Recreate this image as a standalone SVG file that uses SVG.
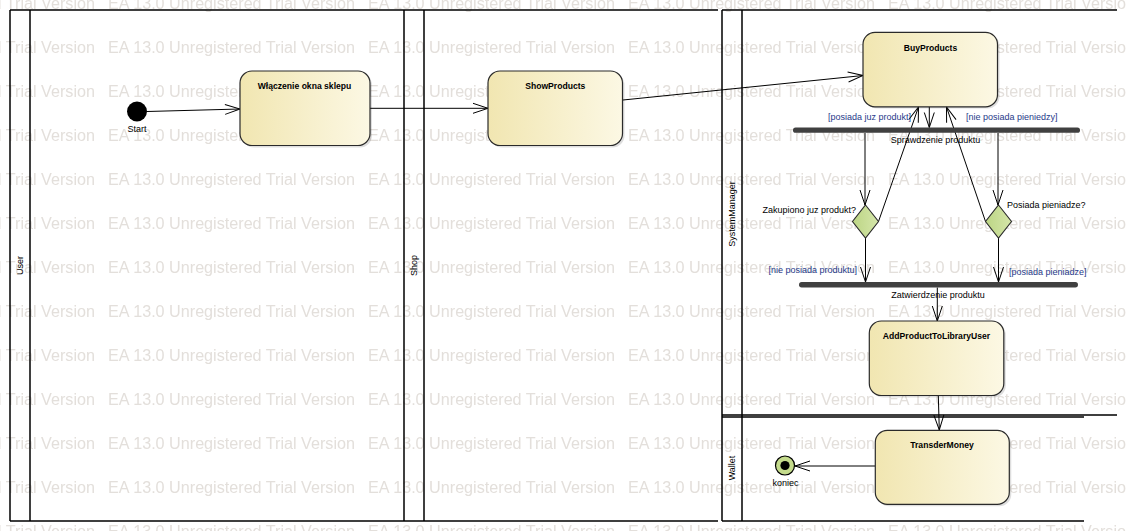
<svg xmlns="http://www.w3.org/2000/svg" width="1126" height="531" viewBox="0 0 1126 531">
<style>
.lane{stroke:#000;stroke-width:1.5;fill:none}
.lbl{font-family:"Liberation Sans",Arial,sans-serif;font-size:9px;fill:#000}
.ttl{font-family:"Liberation Sans",Arial,sans-serif;font-size:8.6px;font-weight:bold;fill:#000;text-anchor:middle}
.grd{font-family:"Liberation Sans",Arial,sans-serif;font-size:9px;fill:#1f3a8a}
.wm{font-family:"Liberation Sans",Arial,sans-serif;font-size:16px;fill:#e3dfdb}
.act{fill:url(#actg);stroke:#2a2a2a;stroke-width:1.2}
.shd{fill:#000;opacity:.13}
.dec{fill:url(#decg);stroke:#2a2a2a;stroke-width:1.1}
.bar{fill:#404040}
.con{stroke:#000;stroke-width:1;fill:none;marker-end:url(#arr)}
</style>
<defs>
<linearGradient id="actg" x1="0" y1="0" x2="1" y2="0">
<stop offset="0" stop-color="#f1e6b1"/>
<stop offset="1" stop-color="#fcf8e4"/>
</linearGradient>
<linearGradient id="decg" x1="0" y1="0" x2="1" y2="0">
<stop offset="0" stop-color="#bcd584"/>
<stop offset="1" stop-color="#d5e6aa"/>
</linearGradient>
<marker id="arr" viewBox="-16 -6 17 12" refX="0" refY="0" markerWidth="17" markerHeight="12" orient="auto" markerUnits="userSpaceOnUse" overflow="visible">
<path d="M-15,-5 L0,0 L-15,5" fill="none" stroke="#000" stroke-width="1"/>
</marker>
<pattern id="wmp" patternUnits="userSpaceOnUse" x="108" y="-21" width="260" height="44">
<text class="wm" x="0" y="30" textLength="247" lengthAdjust="spacingAndGlyphs">EA 13.0 Unregistered Trial Version</text>
</pattern>
</defs>
<rect x="0" y="0" width="1126" height="531" fill="#fff"/>
<rect x="0" y="0" width="1126" height="531" fill="url(#wmp)"/>

<g id="lanes">
<path class="lane" d="M10,10 H718 M10,521 H718 M10,10 V521 M30,10 V521 M404,10 V521 M424,10 V521"/>
<path class="lane" d="M722,10 H1117 M722,10 V521 M742,10 V521 M722,415 H1117 M722,521 H1084"/>
<path d="M722,417 H1084" stroke="#000" stroke-width="1.5"/>
<text class="lbl" transform="translate(20,265.5) rotate(-90)" text-anchor="middle" dominant-baseline="central">User</text>
<text class="lbl" transform="translate(413.5,265.5) rotate(-90)" text-anchor="middle" dominant-baseline="central">Shop</text>
<text class="lbl" transform="translate(732,214) rotate(-90)" text-anchor="middle" dominant-baseline="central">SystemManager</text>
<text class="lbl" transform="translate(732,468) rotate(-90)" text-anchor="middle" dominant-baseline="central">Wallet</text>
</g>

<g id="connectors">
<line class="con" x1="147" y1="111.5" x2="240" y2="109"/>
<line class="con" x1="370" y1="108.3" x2="488" y2="108.3"/>
<line class="con" x1="623" y1="100" x2="863" y2="75.5"/>
<line class="con" x1="929.3" y1="107" x2="929.3" y2="127.5"/>
<line class="con" x1="865" y1="133" x2="865" y2="205"/>
<line class="con" x1="998" y1="133" x2="998" y2="205"/>
<line class="con" x1="878.5" y1="221.5" x2="918.5" y2="107"/>
<line class="con" x1="985.5" y1="221.5" x2="946.5" y2="107"/>
<line class="con" x1="865.5" y1="238" x2="865.5" y2="282"/>
<line class="con" x1="998.5" y1="238" x2="998.5" y2="282"/>
<line class="con" x1="937.3" y1="287.5" x2="937.3" y2="321"/>
<line class="con" x1="938.3" y1="395.5" x2="939.3" y2="430"/>
<line class="con" x1="875" y1="466" x2="795" y2="466"/>
<text class="grd" x="911" y="120" text-anchor="end">[posiada juz produkt]</text>
<text class="grd" x="966" y="120">[nie posiada pieniedzy]</text>
<text class="grd" x="857" y="273" text-anchor="end">[nie posiada produktu]</text>
<text class="grd" x="1009" y="275">[posiada pieniadze]</text>
</g>

<g id="start">
<circle cx="137" cy="111.5" r="10" fill="#000"/>
<text class="lbl" x="137" y="132" text-anchor="middle">Start</text>
</g>

<g id="wlaczenie">
<rect class="shd" x="242" y="73" width="130" height="74.5" rx="12"/>
<rect class="act" x="240" y="71" width="130" height="74.5" rx="12"/>
<text class="ttl" x="304.5" y="88.5">Włączenie okna sklepu</text>
</g>

<g id="showproducts">
<rect class="shd" x="490" y="73" width="134.5" height="74.5" rx="12"/>
<rect class="act" x="488" y="71" width="134.5" height="74.5" rx="12"/>
<text class="ttl" x="555.3" y="89">ShowProducts</text>
</g>

<g id="buyproducts">
<rect class="shd" x="865" y="34" width="134.5" height="74.5" rx="12"/>
<rect class="act" x="863" y="32.3" width="134.5" height="74.5" rx="12"/>
<text class="ttl" x="930.5" y="50.5">BuyProducts</text>
</g>

<g id="fork">
<rect class="bar" x="793" y="127.5" width="287" height="5.3" rx="2.6"/>
<text class="lbl" x="935.5" y="143" text-anchor="middle">Sprawdzenie produktu</text>
</g>

<g id="decision1">
<polygon class="dec" points="865.5,205 878.5,221.5 865.5,238 852.5,221.5"/>
<text class="lbl" x="856" y="213" text-anchor="end">Zakupiono juz produkt?</text>
</g>

<g id="decision2">
<polygon class="dec" points="998.5,205 1011.5,221.5 998.5,238 985.5,221.5"/>
<text class="lbl" x="1007" y="208">Posiada pieniadze?</text>
</g>

<g id="join">
<rect class="bar" x="799" y="282" width="279" height="5.5" rx="2.7"/>
<text class="lbl" x="938" y="298" text-anchor="middle">Zatwierdzenie produktu</text>
</g>

<g id="addproduct">
<rect class="shd" x="871.3" y="323" width="134.5" height="74.5" rx="12"/>
<rect class="act" x="869.3" y="321" width="134.5" height="74.5" rx="12"/>
<text class="ttl" x="936.5" y="339">AddProductToLibraryUser</text>
</g>

<g id="transdermoney">
<rect class="shd" x="877.3" y="432.3" width="134" height="74" rx="12"/>
<rect class="act" x="875.3" y="430.3" width="134" height="74" rx="12"/>
<text class="ttl" x="942" y="448">TransderMoney</text>
</g>

<g id="koniec">
<circle cx="785" cy="465.5" r="9.5" fill="#c4db8c" stroke="#000" stroke-width="1.2"/>
<circle cx="785" cy="465.5" r="4.6" fill="#000"/>
<text class="lbl" x="785.5" y="486" text-anchor="middle">koniec</text>
</g>
</svg>
